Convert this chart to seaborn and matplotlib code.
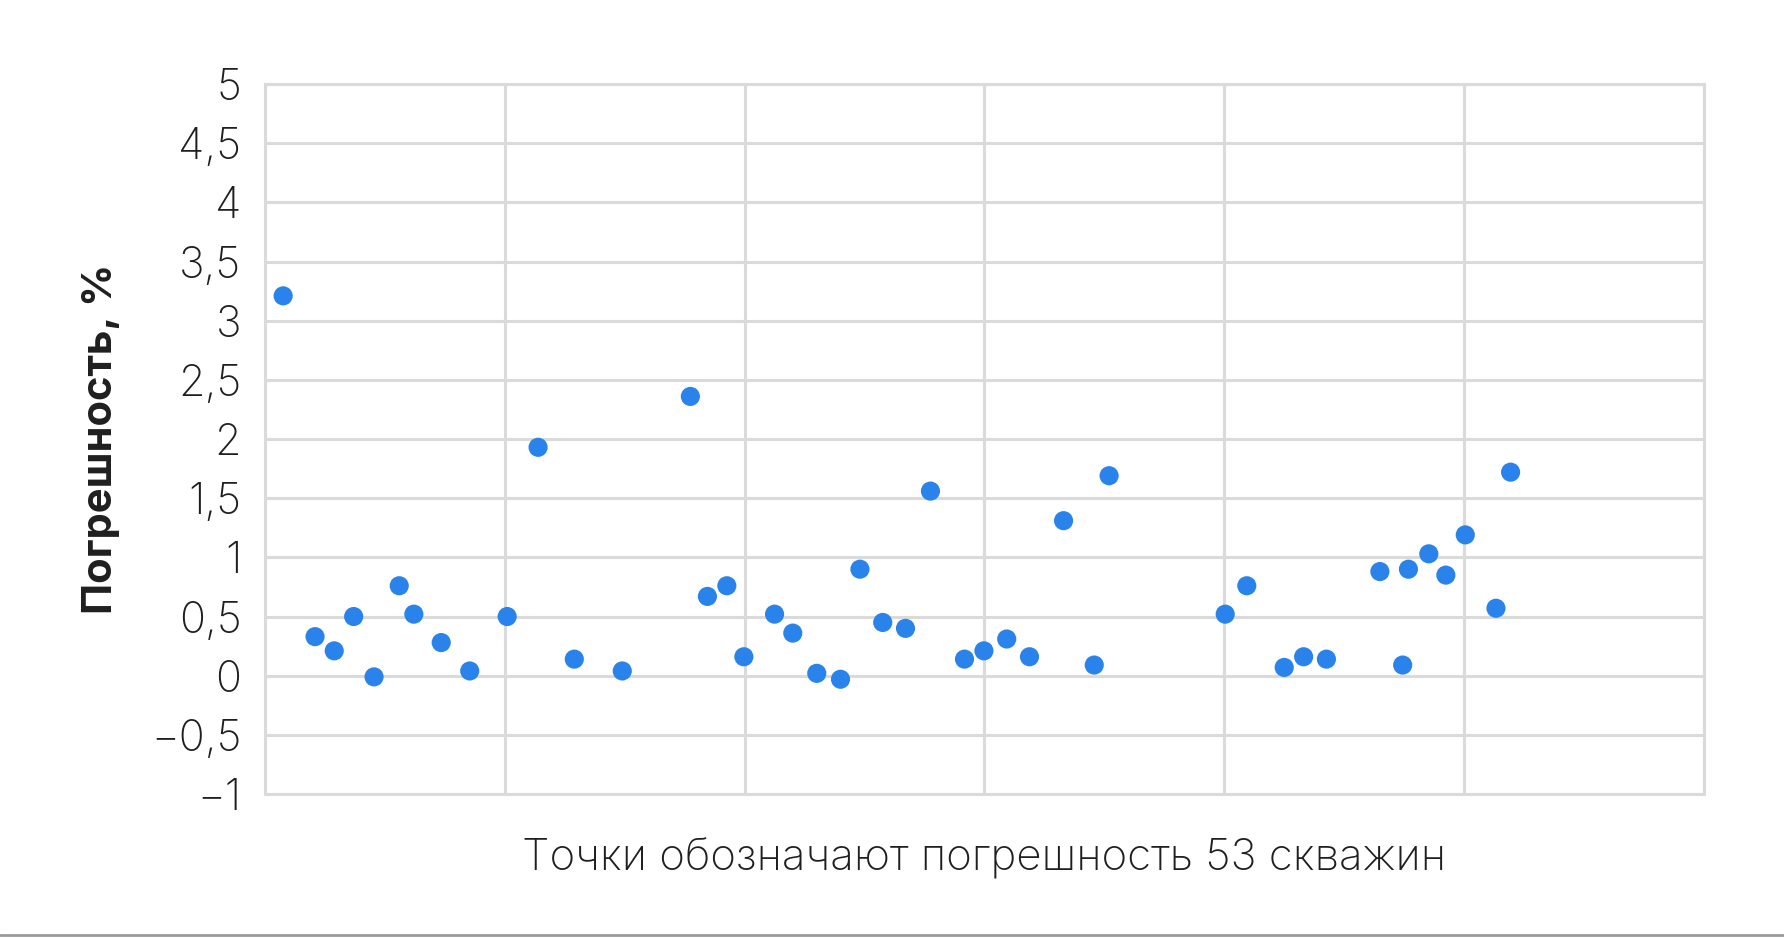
import numpy as np
import pandas as pd
import matplotlib
matplotlib.use("Agg")
import matplotlib.pyplot as plt
from matplotlib.lines import Line2D
import seaborn as sns

# Data
well_x = [0.76, 2.09, 2.89, 3.70, 4.55, 5.60, 6.21, 7.35, 8.54, 10.10,
          11.39, 12.90, 14.90, 17.74, 18.45, 19.26, 19.97, 21.25, 22.01, 23.01,
          24.00, 24.81, 25.76, 26.71, 27.75, 29.17, 29.98, 30.93, 31.88, 33.30,
          34.58, 35.20, 40.04, 40.94, 42.50, 43.31, 44.26, 46.49, 47.44, 47.68,
          48.53, 49.24, 50.05, 51.33, 51.94]
error_pct = [3.21, 0.33, 0.21, 0.50, -0.01, 0.76, 0.52, 0.28, 0.04, 0.50,
             1.93, 0.14, 0.04, 2.36, 0.67, 0.76, 0.16, 0.52, 0.36, 0.02,
             -0.03, 0.90, 0.45, 0.40, 1.56, 0.14, 0.21, 0.31, 0.16, 1.31,
             0.09, 1.69, 0.52, 0.76, 0.07, 0.16, 0.14, 0.88, 0.09, 0.90,
             1.03, 0.85, 1.19, 0.57, 1.72]
y_ticks = [-1, -0.5, 0, 0.5, 1, 1.5, 2, 2.5, 3, 3.5, 4, 4.5, 5]
y_tick_labels = ["\u22121", "\u22120,5", "0", "0,5", "1", "1,5", "2", "2,5", "3", "3,5", "4", "4,5", "5"]
x_ticks = [0, 10, 20, 30, 40, 50, 60]
x_label = "Точки обозначают погрешность 53 скважин"
y_label = "Погрешность, %"

df = pd.DataFrame({"x": well_x, "y": error_pct})

sns.set_theme(style="white")
plt.rcParams["font.family"] = ["Inter", "DejaVu Sans"]

fig = plt.figure(figsize=(17.84, 9.39), dpi=100)
ax = fig.add_axes([0.1485, 0.1544, 0.8066, 0.7561])

grid_color = "#dadada"
ax.set_axisbelow(True)
ax.grid(True, color=grid_color, linewidth=2.2)

sns.scatterplot(data=df, x="x", y="y", ax=ax, s=190, color="#2a83ea",
                edgecolor="none", linewidth=0, zorder=3)

ax.set_xlim(0, 60)
ax.set_ylim(-1, 5)
ax.set_xticks(x_ticks)
ax.set_xticklabels([])
ax.set_yticks(y_ticks)
ax.set_yticklabels(y_tick_labels, fontsize=31, color="#1f1f1f", fontweight="light")
ax.tick_params(axis="y", length=0, pad=17)
ax.tick_params(axis="x", length=0)

for sp in ax.spines.values():
    sp.set_color(grid_color)
    sp.set_linewidth(2.2)

ax.set_xlabel(x_label, fontsize=31.5, color="#1f1f1f", fontweight="light", labelpad=28)
ax.set_ylabel(y_label, fontsize=30, color="#1f1f1f", fontweight="bold", labelpad=22)

fig.add_artist(Line2D([0, 1], [0.004, 0.004], transform=fig.transFigure,
                      color="#9a9a9a", linewidth=2))

fig.savefig("out.png", dpi=100, facecolor="white")
